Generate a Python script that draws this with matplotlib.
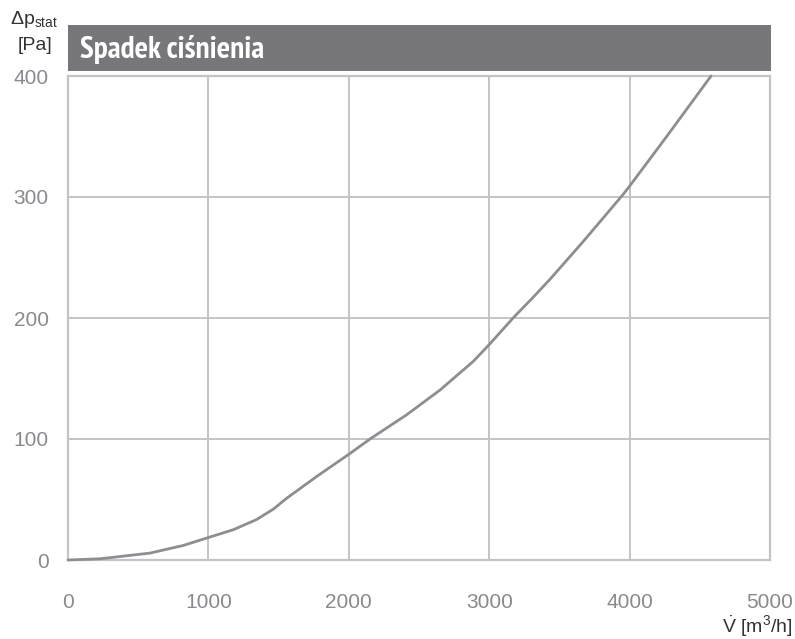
import matplotlib
matplotlib.use("Agg")
import matplotlib.pyplot as plt
from matplotlib.patches import Rectangle

plt.rcParams['font.family'] = ['Liberation Sans', 'DejaVu Sans']
plt.rcParams['mathtext.fontset'] = 'custom'
plt.rcParams['mathtext.rm'] = 'Liberation Sans'
plt.rcParams['mathtext.it'] = 'Liberation Sans'
plt.rcParams['mathtext.bf'] = 'Liberation Sans:bold'

# Data
flow = [0, 228, 584, 820, 1011, 1177, 1344, 1462, 1557, 1771, 2008, 2151, 2412,
        2650, 2885, 3000, 3170, 3312, 3433, 3668, 3953, 4000, 4264, 4580]
dp = [0, 1, 5.7, 12, 19, 25, 33.5, 42, 51, 69, 88, 100, 120,
      140.5, 164, 178, 200, 217, 232, 263, 302, 309, 350, 400]

x_ticks = [0, 1000, 2000, 3000, 4000, 5000]
y_ticks = [0, 100, 200, 300, 400]
title_text = "Spadek ciśnienia"

W, H = 795, 639
fig = plt.figure(figsize=(W / 100, H / 100), dpi=100)
ax = fig.add_axes([68 / W, 1 - 560 / H, (770 - 68) / W, (560 - 76) / H])

grid_col = '#c4c4c6'
ax.plot(flow, dp, color='#8e8e92', lw=2.0, solid_capstyle='round',
        solid_joinstyle='round', zorder=3, clip_on=False)
ax.set_xlim(0, 5000)
ax.set_ylim(0, 400)
ax.set_xticks(x_ticks)
ax.set_yticks(y_ticks)
ax.grid(True, color=grid_col, lw=1.4)
for s in ax.spines.values():
    s.set_color(grid_col)
    s.set_linewidth(1.6)
ax.tick_params(length=0, labelsize=15, colors='#8a8a8e')
ax.tick_params(axis='x', pad=24)
ax.tick_params(axis='y', pad=14)

# Title bar
fig.patches.append(Rectangle((68 / W, 1 - 70.5 / H), (771 - 68) / W, 45.5 / H,
                             transform=fig.transFigure, facecolor='#77777b',
                             edgecolor='none'))
fig.text(80 / W, 1 - 49 / H, title_text, color='white', fontsize=22.5,
         fontweight='bold', family=['PT Sans Narrow', 'Liberation Sans'],
         va='center', ha='left')

# Axis labels
fig.text(34 / W, 1 - 20 / H, r'Δp$_{\mathrm{stat}}$', fontsize=14, color='#333333',
         ha='center', va='center')
fig.text(35 / W, 1 - 46 / H, '[Pa]', fontsize=14, color='#333333',
         ha='center', va='center')
fig.text(793 / W, 1 - 626 / H, r'$\dot{\mathrm{V}}$ [m$^3$/h]', fontsize=14,
         color='#333333', ha='right', va='center')

fig.savefig('out.png', dpi=100)
